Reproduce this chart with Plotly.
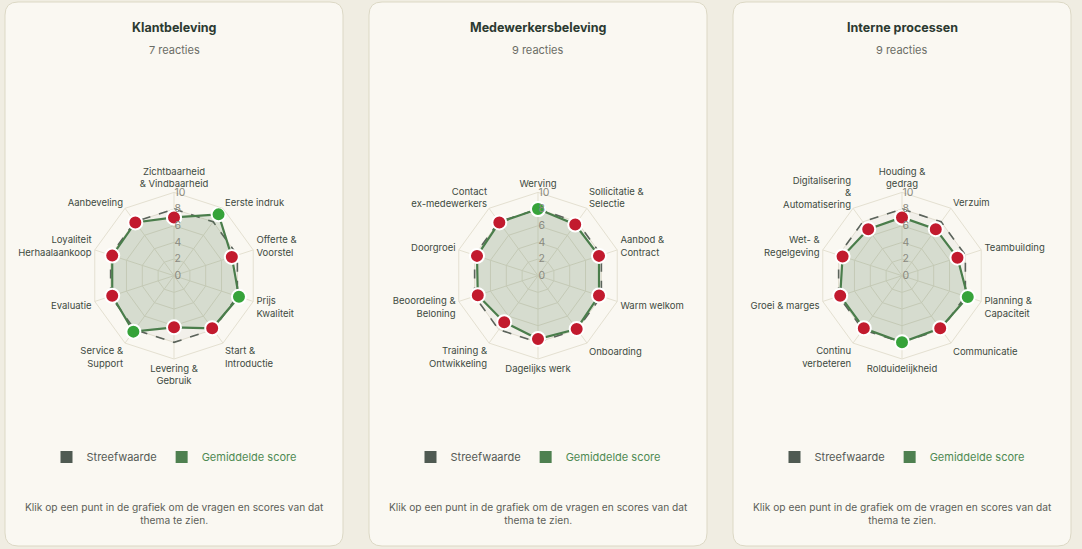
import plotly.graph_objects as go

# thema's per kaart (labels van de hoekas)
cats_klant = ["Zichtbaarheid<br>& Vindbaarheid", "Eerste indruk", "Offerte &<br>Voorstel", "Prijs<br>Kwaliteit",
              "Start &<br>Introductie", "Levering &<br>Gebruik", "Service &<br>Support", "Evaluatie",
              "Loyaliteit<br>Herhaalaankoop", "Aanbeveling"]
cats_medew = ["Werving", "Sollicitatie &<br>Selectie", "Aanbod &<br>Contract", "Warm welkom", "Onboarding",
              "Dagelijks werk", "Training &<br>Ontwikkeling", "Beoordeling &<br>Beloning", "Doorgroei",
              "Contact<br>ex-medewerkers"]
cats_intern = ["Houding &<br>gedrag", "Verzuim", "Teambuilding", "Planning &<br>Capaciteit", "Communicatie",
               "Rolduidelijkheid", "Continu<br>verbeteren", "Groei & marges", "Wet- &<br>Regelgeving",
               "Digitalisering<br>&<br>Automatisering"]

score_klant = [7.0, 9.1, 7.3, 8.2, 7.8, 6.2, 8.3, 7.8, 7.8, 7.9]
score_medew = [8.0, 7.6, 7.7, 7.7, 7.9, 7.6, 6.9, 7.6, 7.7, 7.9]
score_intern = [7.0, 6.9, 7.0, 8.3, 7.8, 8.0, 7.8, 7.8, 7.5, 6.9]
streef_klant = [8, 8, 8, 8, 8, 8, 8, 8, 8, 8]
streef_medew = [8, 8, 8, 8, 8, 8, 8, 8, 8, 8]
streef_intern = [8, 8, 8, 8, 8, 8, 8, 8, 8, 8]

titels = ["Klantbeleving", "Medewerkersbeleving", "Interne processen"]
reacties = ["7 reacties", "9 reacties", "9 reacties"]
radiaal_ticks = [0, 2, 4, 6, 8, 10]

W, H = 1082, 549
BG = "#f0ede2"
CARD = "#faf8f2"
FONT = "Inter, Lato, sans-serif"
ROOD = "#c21a2e"
GROEN = "#36a33a"

kaart_links = [5, 369, 733]
kaart_breedte = 338
cx_list = [174, 538, 902]
cy = 275.7
R = 83.3

fig = go.Figure()


def px_x(v):
    return v / W


def px_y(v):
    return 1 - v / H


def rounded(x0, y0, x1, y1, r):
    # pad in paper-coordinaten
    X = lambda v: px_x(v)
    Y = lambda v: px_y(v)
    return (f"M {X(x0 + r)} {Y(y0)} L {X(x1 - r)} {Y(y0)} Q {X(x1)} {Y(y0)} {X(x1)} {Y(y0 + r)} "
            f"L {X(x1)} {Y(y1 - r)} Q {X(x1)} {Y(y1)} {X(x1 - r)} {Y(y1)} "
            f"L {X(x0 + r)} {Y(y1)} Q {X(x0)} {Y(y1)} {X(x0)} {Y(y1 - r)} "
            f"L {X(x0)} {Y(y0 + r)} Q {X(x0)} {Y(y0)} {X(x0 + r)} {Y(y0)} Z")


shapes = []
annotations = []
data = [(cats_klant, score_klant, streef_klant),
        (cats_medew, score_medew, streef_medew),
        (cats_intern, score_intern, streef_intern)]

layout_extra = {}
for i, (cats, score, streef) in enumerate(data):
    sub = "polar" if i == 0 else f"polar{i + 1}"
    leg = "legend" if i == 0 else f"legend{i + 1}"
    cx = cx_list[i]
    x0 = kaart_links[i]

    shapes.append(dict(type="path", xref="paper", yref="paper", layer="below",
                       path=rounded(x0, 2, x0 + kaart_breedte, 546, 13),
                       fillcolor=CARD, line=dict(color="#dcd8c5", width=1)))

    theta = cats + [cats[0]]
    kleuren = [GROEN if s >= t else ROOD for s, t in zip(score, streef)]

    fig.add_trace(go.Scatterpolar(r=streef + [streef[0]], theta=theta, subplot=sub, mode="lines",
                                  line=dict(color="#5b635b", width=1.6, dash="dash"),
                                  fill="toself", fillcolor="rgba(95,105,90,0.05)",
                                  showlegend=False, hoverinfo="skip"))
    fig.add_trace(go.Scatterpolar(r=score + [score[0]], theta=theta, subplot=sub, mode="lines+markers",
                                  line=dict(color="#4a7d4b", width=2.2),
                                  fill="toself", fillcolor="rgba(78,125,80,0.17)",
                                  marker=dict(size=14, color=kleuren + [kleuren[0]],
                                              line=dict(color="white", width=2)),
                                  showlegend=False))
    # legenda-items
    fig.add_trace(go.Scatterpolar(r=[None], theta=[cats[0]], subplot=sub, mode="markers",
                                  name="Streefwaarde", legend=leg,
                                  marker=dict(symbol="square", size=12, color="#4f5a52")))
    fig.add_trace(go.Scatterpolar(r=[None], theta=[cats[0]], subplot=sub, mode="markers",
                                  name="<span style='color:#4e8a52'>Gemiddelde score</span>", legend=leg,
                                  marker=dict(symbol="square", size=12, color="#4e8050")))

    layout_extra[sub] = dict(
        domain=dict(x=[px_x(cx - R), px_x(cx + R)], y=[px_y(cy + R), px_y(cy - R)]),
        bgcolor="rgba(0,0,0,0)",
        gridshape="linear",
        radialaxis=dict(range=[0, 10], tickvals=radiaal_ticks, angle=90, tickangle=90,
                        showline=False, gridcolor="#e4e0d1", ticks="",
                        tickfont=dict(family=FONT, size=10.5, color="#8a8a80")),
        angularaxis=dict(rotation=90, direction="clockwise", showline=True, linecolor="#e4e0d1",
                         gridcolor="#e4e0d1", ticks="outside", ticklen=1, tickcolor="rgba(0,0,0,0)",
                         tickfont=dict(family=FONT, size=9.5, color="#3d4a41")),
    )
    layout_extra[leg] = dict(orientation="h", x=px_x(cx), xanchor="center", y=px_y(457), yanchor="middle",
                             bgcolor="rgba(0,0,0,0)", font=dict(family=FONT, size=11, color="#555a55"),
                             itemwidth=30, itemclick=False, itemdoubleclick=False)

    annotations.append(dict(text=f"<b>{titels[i]}</b>", x=px_x(cx), y=px_y(28), xref="paper", yref="paper",
                            xanchor="center", yanchor="middle", showarrow=False,
                            font=dict(family=FONT, size=12.5, color="#2c3a31")))
    annotations.append(dict(text=reacties[i], x=px_x(cx), y=px_y(50), xref="paper", yref="paper",
                            xanchor="center", yanchor="middle", showarrow=False,
                            font=dict(family=FONT, size=11, color="#6b6d66")))
    annotations.append(dict(text="Klik op een punt in de grafiek om de vragen en scores van dat<br>thema te zien.",
                            x=px_x(cx), y=px_y(513), xref="paper", yref="paper", showarrow=False,
                            xanchor="center", yanchor="middle",
                            align="center", font=dict(family=FONT, size=10.2, color="#5c5e58")))

fig.update_layout(width=W, height=H, margin=dict(l=0, r=0, t=0, b=0),
                  paper_bgcolor=BG, plot_bgcolor=BG, shapes=shapes, annotations=annotations,
                  **layout_extra)

fig.write_html("out.html", config={"displayModeBar": False},
               post_script="document.body.style.margin='0';")
